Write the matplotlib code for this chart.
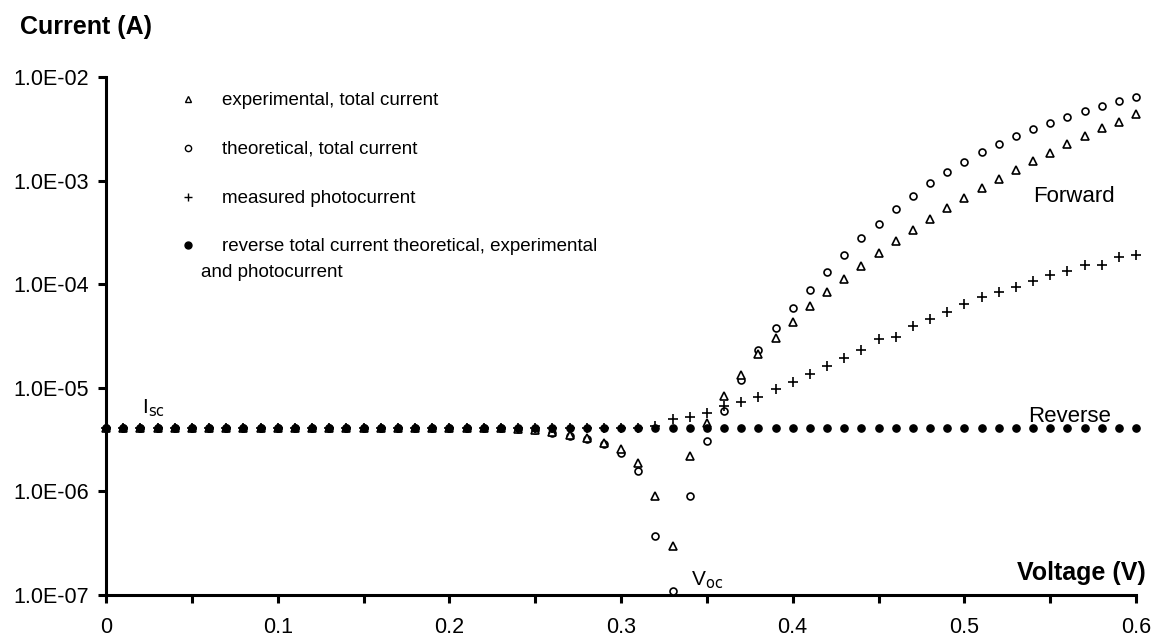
import numpy as np
import matplotlib
matplotlib.use("Agg")
import matplotlib.pyplot as plt
from matplotlib.ticker import FixedLocator, FuncFormatter, NullLocator

plt.rcParams['font.family'] = ['Liberation Sans', 'DejaVu Sans']

# voltajes medidos (V)
voltaje = [0.00, 0.01, 0.02, 0.03, 0.04, 0.05, 0.06, 0.07, 0.08, 0.09,
           0.10, 0.11, 0.12, 0.13, 0.14, 0.15, 0.16, 0.17, 0.18, 0.19,
           0.20, 0.21, 0.22, 0.23, 0.24, 0.25, 0.26, 0.27, 0.28, 0.29,
           0.30, 0.31, 0.32, 0.33, 0.34, 0.35, 0.36, 0.37, 0.38, 0.39,
           0.40, 0.41, 0.42, 0.43, 0.44, 0.45, 0.46, 0.47, 0.48, 0.49,
           0.50, 0.51, 0.52, 0.53, 0.54, 0.55, 0.56, 0.57, 0.58, 0.59, 0.60]

# corriente total experimental (A)
experimental = [4.1e-6] * 24 + [
    4.0e-6, 3.9e-6, 3.75e-6, 3.5e-6, 3.25e-6, 2.95e-6, 2.55e-6, 1.9e-6, 9.1e-7, 3.0e-7,
    2.2e-6, 4.6e-6, 8.3e-6, 1.33e-5, 2.1e-5, 3.0e-5, 4.35e-5, 6.1e-5, 8.4e-5, 1.13e-4,
    1.5e-4, 2.0e-4, 2.6e-4, 3.3e-4, 4.3e-4, 5.4e-4, 6.8e-4, 8.4e-4, 1.04e-3, 1.26e-3,
    1.55e-3, 1.86e-3, 2.25e-3, 2.7e-3, 3.2e-3, 3.7e-3, 4.4e-3]

# corriente total teorica (A)
teorica = [4.1e-6] * 24 + [
    4.0e-6, 3.9e-6, 3.7e-6, 3.45e-6, 3.2e-6, 2.85e-6, 2.36e-6, 1.58e-6, 3.7e-7, 1.1e-7,
    9.1e-7, 3.05e-6, 6.0e-6, 1.2e-5, 2.3e-5, 3.75e-5, 5.9e-5, 8.8e-5, 1.3e-4, 1.9e-4,
    2.77e-4, 3.84e-4, 5.3e-4, 7.15e-4, 9.4e-4, 1.21e-3, 1.51e-3, 1.87e-3, 2.25e-3, 2.72e-3,
    3.15e-3, 3.62e-3, 4.14e-3, 4.67e-3, 5.25e-3, 5.87e-3, 6.4e-3]

# fotocorriente medida (A)
fotocorriente = [4.1e-6] * 32 + [
    4.3e-6, 4.95e-6, 5.25e-6, 5.7e-6, 6.6e-6, 7.35e-6, 8.1e-6, 9.7e-6, 1.15e-5, 1.36e-5,
    1.62e-5, 1.93e-5, 2.32e-5, 2.94e-5, 3.11e-5, 3.98e-5, 4.62e-5, 5.43e-5, 6.4e-5, 7.47e-5,
    8.35e-5, 9.46e-5, 1.07e-4, 1.23e-4, 1.34e-4, 1.53e-4, 1.53e-4, 1.84e-4, 1.91e-4]

# corriente inversa (A)
inversa = [4.1e-6] * 61

etiquetas = ["experimental, total current",
             "theoretical, total current",
             "measured photocurrent",
             "reverse total current theoretical, experimental\nand photocurrent"]

fig = plt.figure(figsize=(11.63, 6.41), dpi=100)
ax = fig.add_axes([106/1163, 1-595/641, (1136-106)/1163, (595-77)/641])

ax.plot(voltaje, teorica, 'o', markerfacecolor='white', markeredgecolor='black',
        markersize=5, markeredgewidth=1.2, linestyle='none', zorder=3)
ax.plot(voltaje, experimental, '^', markerfacecolor='white', markeredgecolor='black',
        markersize=5.5, markeredgewidth=1.2, linestyle='none', zorder=4)
ax.plot(voltaje, fotocorriente, '+', color='black', markersize=7,
        markeredgewidth=1.2, linestyle='none', zorder=5)
ax.plot(voltaje, inversa, 'o', color='black', markersize=5.2, linestyle='none', zorder=6)

ax.set_yscale('log')
ax.set_xlim(0, 0.6)
ax.set_ylim(1e-7, 1e-2)

ax.yaxis.set_major_locator(FixedLocator([1e-7, 1e-6, 1e-5, 1e-4, 1e-3, 1e-2]))
ax.yaxis.set_minor_locator(NullLocator())
ax.yaxis.set_major_formatter(FuncFormatter(lambda v, p: "1.0E-%02d" % round(-np.log10(v))))

ax.xaxis.set_major_locator(FixedLocator([0, 0.1, 0.2, 0.3, 0.4, 0.5, 0.6]))
ax.xaxis.set_minor_locator(FixedLocator([0.05, 0.15, 0.25, 0.35, 0.45, 0.55]))
ax.xaxis.set_major_formatter(FuncFormatter(lambda v, p: "0" if v == 0 else "%g" % v))

for s in ['top', 'right']:
    ax.spines[s].set_visible(False)
for s in ['left', 'bottom']:
    ax.spines[s].set_linewidth(2.2)
    ax.spines[s].set_zorder(1)

ax.tick_params(axis='both', which='both', direction='out', width=2.2, length=6,
               labelsize=15.5, color='black')
ax.tick_params(axis='x', which='major', pad=10)
ax.tick_params(axis='y', pad=6)
for l in ax.lines:
    l.set_clip_on(False)

# titulos de ejes y anotaciones
fig.text(20/1163, 1-34/641, "Current (A)", fontsize=18, fontweight='bold', va='baseline', ha='left')
ax.text(1.0 + 10/1030, 1e-7 * 10**(15/103.6), "Voltage (V)", transform=ax.get_yaxis_transform(),
        fontsize=18, fontweight='bold', ha='right', va='baseline')
ax.text(0.0207, 5.65e-6, r"I$_{\mathrm{sc}}$", fontsize=15, ha='left', va='baseline')
ax.text(0.341, 1.25e-7, r"V$_{\mathrm{oc}}$", fontsize=15, ha='left', va='baseline')
ax.text(0.540, 6.26e-4, "Forward", fontsize=16, ha='left', va='baseline')
ax.text(0.537, 4.68e-6, "Reverse", fontsize=16, ha='left', va='baseline')

# leyenda dibujada a mano
marcadores = [dict(marker='^', markerfacecolor='white', markersize=4.5),
              dict(marker='o', markerfacecolor='white', markersize=4.5),
              dict(marker='+', markersize=6),
              dict(marker='o', markerfacecolor='black', markersize=5)]
filas_y = [99, 148, 197, 245]
for m, fy, txt in zip(marcadores, filas_y, etiquetas):
    yf = 1 - fy/641
    fig.lines.append(plt.Line2D([188/1163], [yf], color='black', linestyle='none',
                                markeredgewidth=1, transform=fig.transFigure, **m))
    base = 1 - (fy + 6)/641
    if "\n" in txt:
        linea1, linea2 = txt.split("\n")
        fig.text(222/1163, base, linea1, fontsize=13.5, va='baseline', ha='left')
        fig.text(201/1163, 1 - 277/641, linea2, fontsize=13.5, va='baseline', ha='left')
    else:
        fig.text(222/1163, base, txt, fontsize=13.5, va='baseline', ha='left')

fig.savefig("out.png", dpi=100, facecolor='white')
